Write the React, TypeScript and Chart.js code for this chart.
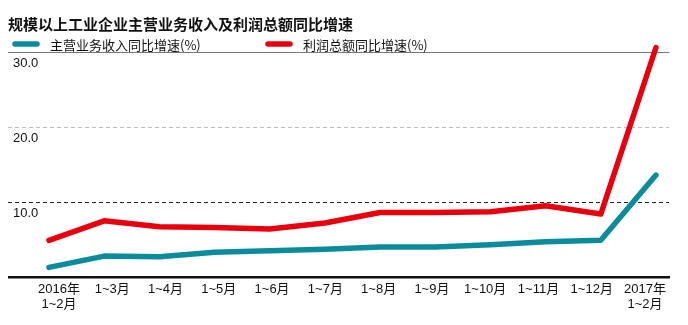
import React, { useEffect, useRef } from 'react';
import { Chart, registerables } from 'chart.js';

Chart.register(...registerables);

const titleText = '规模以上工业企业主营业务收入及利润总额同比增速';
const categories: (string | string[])[] = [
  ['2016年', '1~2月'], '1~3月', '1~4月', '1~5月', '1~6月', '1~7月',
  '1~8月', '1~9月', '1~10月', '1~11月', '1~12月', ['2017年', '1~2月'],
];
const revenueName = '主营业务收入同比增速(%)';
const profitName = '利润总额同比增速(%)';
const revenueGrowth = [1.3, 2.8, 2.7, 3.3, 3.5, 3.7, 4.0, 4.0, 4.3, 4.7, 4.9, 13.6];
const profitGrowth = [4.9, 7.5, 6.7, 6.6, 6.4, 7.2, 8.6, 8.6, 8.7, 9.5, 8.4, 30.6];
const yTicks = [0, 10, 20, 30];

const TEAL = '#0a8c9c';
const RED = '#e8000e';

const legendPlugin = {
  id: 'customLegend',
  afterDraw(chart: any) {
    const ctx = chart.ctx;
    const xs = [4, 257];
    const y = 36;
    ctx.save();
    chart.data.datasets.forEach((ds: any, i: number) => {
      const x = xs[i];
      ctx.strokeStyle = ds.borderColor;
      ctx.lineWidth = 5.5;
      ctx.lineCap = 'round';
      ctx.beginPath();
      ctx.moveTo(x + 3, y);
      ctx.lineTo(x + 25, y);
      ctx.stroke();
      ctx.fillStyle = '#111';
      ctx.font = '13px "Noto Sans CJK SC"';
      ctx.textBaseline = 'middle';
      ctx.textAlign = 'left';
      ctx.fillText(ds.label, x + 38, y + 1);
    });
    ctx.restore();
  },
};

export default function App() {
  const ref = useRef<HTMLCanvasElement | null>(null);
  useEffect(() => {
    if (!ref.current) return;
    const idx = categories.map((_, i) => i);
    const chart = new Chart(ref.current, {
      type: 'line',
      data: {
        datasets: [
          {
            label: revenueName,
            data: revenueGrowth.map((v, i) => ({ x: idx[i], y: v })),
            borderColor: TEAL,
            backgroundColor: TEAL,
            borderWidth: 5.5,
            pointRadius: 0,
            tension: 0,
            borderCapStyle: 'round',
            borderJoinStyle: 'round',
            clip: false,
            xAxisID: 'x',
          },
          {
            label: profitName,
            data: profitGrowth.map((v, i) => ({ x: idx[i], y: v })),
            borderColor: RED,
            backgroundColor: RED,
            borderWidth: 5.5,
            pointRadius: 0,
            tension: 0,
            borderCapStyle: 'round',
            borderJoinStyle: 'round',
            clip: false,
            xAxisID: 'x',
          },
        ],
      },
      options: {
        animation: false,
        responsive: true,
        maintainAspectRatio: false,
        layout: { padding: { left: 0, right: 11, top: 0, bottom: 0 } },
        plugins: {
          legend: { display: false },
          tooltip: { enabled: false },
          title: {
            display: true,
            text: titleText,
            align: 'start',
            color: '#111',
            font: { family: '"Noto Sans CJK SC"', size: 15, weight: 'bold' },
            padding: { top: 7, bottom: 19 },
          },
        },
        scales: {
          x: {
            type: 'linear',
            display: false,
            min: -0.743,
            max: 11.236,
          },
          xl: {
            type: 'linear',
            position: 'bottom',
            min: -0.957,
            max: 11.45,
            afterBuildTicks: (s: any) => {
              s.ticks = categories.map((_, i) => ({ value: i }));
            },
            grid: { display: false, drawTicks: false },
            border: { display: true, color: '#111', width: 2.5 },
            ticks: {
              autoSkip: false,
              maxRotation: 0,
              padding: 5,
              color: '#111',
              font: { family: 'Arial, "Noto Sans CJK SC"', size: 13, lineHeight: 1.15 },
              callback: (v: any) => categories[v as number] as any,
            },
          },
          y: {
            type: 'linear',
            min: 0,
            max: 30,
            afterBuildTicks: (s: any) => {
              s.ticks = yTicks.map((v) => ({ value: v }));
            },
            afterFit: (s: any) => {
              s.width = 0;
            },
            grid: {
              drawTicks: false,
              lineWidth: 1,
              color: (c: any) => {
                const v = c.tick ? c.tick.value : null;
                if (v === 0) return 'rgba(0,0,0,0)';
                if (v === 30) return '#777';
                if (v === 20) return '#bbb';
                return '#222';
              },
            },
            border: {
              display: false,
              dash: (c: any) => (c.tick && c.tick.value === 30 ? [] : [4, 3]),
            },
            ticks: {
              mirror: true,
              padding: 5,
              labelOffset: 11,
              color: '#111',
              font: { family: 'Arial', size: 13 },
              callback: (v: any) => (v === 0 ? '' : Number(v).toFixed(1)),
            },
          },
        },
      },
      plugins: [legendPlugin],
    });
    return () => chart.destroy();
  }, []);
  return (
    <div style={{ width: '100%', height: 309, position: 'relative' }}>
      <canvas ref={ref} />
    </div>
  );
}
